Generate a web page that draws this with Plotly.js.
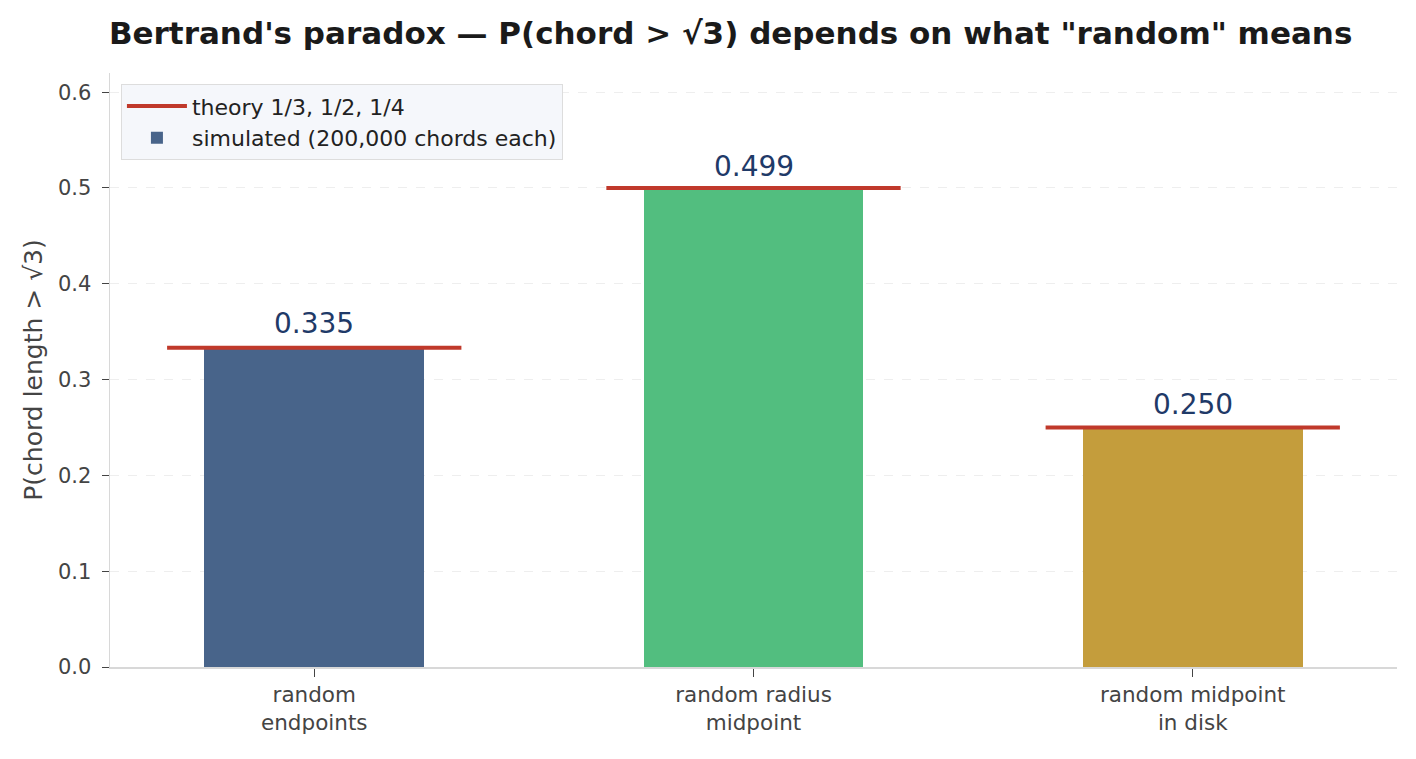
<!DOCTYPE html>
<html>
<head>
<meta charset="utf-8">
<script src="https://cdn.plot.ly/plotly-3.0.1.min.js"></script>
<style>
  html, body { margin: 0; padding: 0; background: #fff; }
  #plotDiv { width: 1416px; height: 759px; }
</style>
</head>
<body>
<div id="plotDiv"></div>
<script>
// Bertrand's paradox - simulated vs theoretical chord probabilities
const methods   = ['random<br>endpoints', 'random radius<br>midpoint', 'random midpoint<br>in disk']
const simulated = [0.335, 0.499, 0.250]
const theory    = [1/3, 1/2, 1/4]
const barColors = ['#48648a', '#52be7f', '#c49d3c']

const pos = methods.map((m, i) => i)

// theory segments, one per bar, split with nulls
const thX = [], thY = []
pos.forEach((p, i) => {
	thX.push(p - 0.335, p + 0.335, null)
	thY.push(theory[i], theory[i], null)
})

const trace_theory = {
	name: 'theory 1/3, 1/2, 1/4',
	x: thX,
	y: thY,
	type: 'scatter',
	mode: 'lines',
	line: {color: '#c0392b', width: 4},
	hoverinfo: 'skip'
}

const trace_sim = {
	name: 'simulated (200,000 chords each)',
	x: pos,
	y: simulated,
	type: 'bar',
	width: 0.5,
	marker: {color: barColors},
	hoverinfo: 'skip'
}

const labels = pos.map((p, i) => ({
	x: p,
	y: simulated[i],
	text: simulated[i].toFixed(3),
	showarrow: false,
	xanchor: 'center',
	yanchor: 'bottom',
	yshift: 4,
	font: {size: 28, color: '#1f3a68', family: 'DejaVu Sans'}
}))

const layout = {
	width: 1416,
	height: 759,
	paper_bgcolor: '#fff',
	plot_bgcolor: '#fff',
	font: {family: 'DejaVu Sans', color: '#444', size: 21},
	title: {
		text: '<b>Bertrand\'s paradox — P(chord > √3) depends on what "random" means</b>',
		x: 0.516,
		xanchor: 'center',
		y: 0.956,
		yanchor: 'middle',
		font: {size: 31, color: '#1a1a1a', family: 'DejaVu Sans'}
	},
	margin: {l: 110, r: 19, t: 73, b: 92},
	xaxis: {
		range: [-0.465, 2.465],
		tickvals: pos,
		ticktext: methods,
		ticks: 'outside',
		ticklen: 8,
		tickcolor: '#444',
		tickfont: {size: 21.5, color: '#444'},
		showgrid: false,
		zeroline: false,
		showline: true,
		linecolor: '#d8d8d8',
		linewidth: 1.5,
		fixedrange: true
	},
	yaxis: {
		range: [0, 0.62],
		tickvals: [0, 0.1, 0.2, 0.3, 0.4, 0.5, 0.6],
		tickformat: '.1f',
		ticks: 'outside',
		ticklen: 7,
		tickcolor: '#444',
		tickfont: {size: 21, color: '#444'},
		ticklabelstandoff: 6,
		showgrid: true,
		gridcolor: '#eeeeee',
		griddash: 'dash',
		zeroline: false,
		showline: true,
		linecolor: '#d8d8d8',
		linewidth: 1.5,
		title: {text: 'P(chord length > √3)', font: {size: 25, color: '#444'}, standoff: 8},
		fixedrange: true
	},
	showlegend: true,
	legend: {
		x: 0.0085,
		y: 0.981,
		xanchor: 'left',
		yanchor: 'top',
		bgcolor: '#f5f7fb',
		bordercolor: '#dddddd',
		borderwidth: 1,
		font: {size: 22, color: '#222'},
		itemwidth: 60,
		traceorder: 'normal'
	},
	annotations: labels,
	bargap: 0
}

const config = {displayModeBar: false, staticPlot: true}
Plotly.newPlot('plotDiv', [trace_theory, trace_sim], layout, config)
</script>
</body>
</html>
